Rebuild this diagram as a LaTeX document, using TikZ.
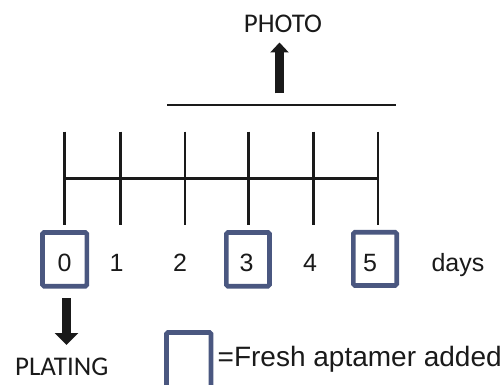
\documentclass[tikz,border=0pt]{standalone}
\usepackage{fontspec}
\setmainfont{Liberation Sans}
\newfontfamily\labelfont{Carlito}
\usetikzlibrary{arrows.meta}
\definecolor{boxblue}{HTML}{4A5780}
\definecolor{ink}{HTML}{1A1A1A}
\tikzset{
  tick/.style={line width=2.6pt, draw=ink},
  axis/.style={line width=3pt, draw=ink},
  dayframe/.style={draw=boxblue, line width=4.6pt, rounded corners=1.5pt},
  daynum/.style={font=\fontsize{25}{25}\selectfont, text=ink, inner sep=0pt, anchor=base},
  caption/.style={font=\labelfont\fontsize{27}{27}\selectfont, text=ink, inner sep=0pt, anchor=base},
  fatarrow/.style={line width=9pt, draw=ink, -{Triangle[width=23pt,length=12pt]}},
}
\begin{document}
\begin{tikzpicture}[x=1pt,y=-1pt]
\useasboundingbox (0,0) rectangle (504,385);
\clip (0,0) rectangle (504,385);

% day ticks along the time axis
\foreach \n/\x in {0/64.7,1/120.3,2/185,3/248.7,4/313.7,5/378}{
  \coordinate (t\n top) at (\x,131.7);
  \coordinate (t\n bot) at (\x,225);
  \coordinate (t\n) at (\x,178.3);
  \draw[tick] (t\n top) -- (t\n bot);
}
\draw[axis] (t0) -- (t5);

% imaging period bar and arrow
\coordinate (barL) at (167,104.7);
\coordinate (barR) at (396,104.7);
\draw[line width=2.2pt, draw=ink] (barL) -- (barR);
\coordinate (photoFoot) at (279.5,93.5);
\coordinate (photoTip) at (279.5,42.5);
\draw[fatarrow, -{Triangle[width=18pt,length=10pt]}] (photoFoot) -- (photoTip);
\node[caption] (photo) at (283,32.5) {PHOTO};

% day labels
\node[daynum] (d0) at (64.5,271.5) {0};
\node[daynum] (d1) at (116.7,271.5) {1};
\node[daynum] (d2) at (180,271.5) {2};
\node[daynum] (d3) at (246.5,271.5) {3};
\node[daynum] (d4) at (310,271.5) {4};
\node[daynum] (d5) at (370,271.5) {5};
\node[daynum] (days) at (458,271.5) {days};

% days with fresh aptamer
\draw[dayframe] (42.5,232.5) rectangle (86.8,286.2);
\draw[dayframe] (226.3,232.5) rectangle (269.5,286.2);
\draw[dayframe] (353.3,232.3) rectangle (396.7,285.5);

% plating arrow
\coordinate (plateFoot) at (66.5,298);
\coordinate (plateTip) at (66.5,345);
\draw[fatarrow] (plateFoot) -- (plateTip);
\node[caption] (plating) at (61.7,375) {PLATING};

% legend
\draw[dayframe] (166.5,332.5) rectangle (211,392);
\node[font=\fontsize{28}{28}\selectfont, text=ink, inner sep=0pt, anchor=base west] (legend) at (217.5,366.7) {=Fresh aptamer added};
\end{tikzpicture}
\end{document}
